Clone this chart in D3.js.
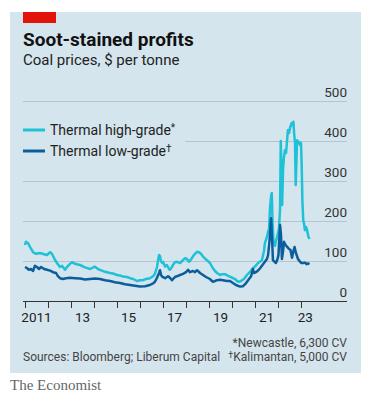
<!DOCTYPE html>
<html><head><meta charset="utf-8">
<script src="https://cdn.jsdelivr.net/npm/d3@7"></script>
<style>
html,body{margin:0;padding:0;background:#fff;}
svg{display:block;}
</style></head>
<body>
<script>
// ---- data ----
const highDates = [2011.00,2011.04,2011.13,2011.22,2011.35,2011.48,2011.65,2011.83,2011.96,2012.09,2012.17,2012.30,2012.43,2012.52,2012.61,2012.74,2012.87,2013.04,2013.17,2013.39,2013.61,2013.83,2014.04,2014.17,2014.26,2014.48,2014.70,2014.87,2015.00,2015.13,2015.26,2015.43,2015.57,2015.70,2015.87,2016.00,2016.13,2016.26,2016.43,2016.57,2016.65,2016.74,2016.78,2016.83,2016.87,2016.91,2016.96,2017.00,2017.09,2017.17,2017.26,2017.30,2017.39,2017.43,2017.52,2017.61,2017.74,2017.83,2017.87,2017.96,2018.04,2018.13,2018.17,2018.30,2018.39,2018.48,2018.57,2018.65,2018.74,2018.83,2018.91,2019.04,2019.17,2019.26,2019.35,2019.48,2019.57,2019.70,2019.83,2019.91,2020.04,2020.13,2020.22,2020.30,2020.39,2020.52,2020.65,2020.78,2020.91,2021.00,2021.13,2021.30,2021.39,2021.43,2021.52,2021.57,2021.61,2021.65,2021.70,2021.73,2021.76,2021.80,2021.87,2021.91,2021.96,2022.00,2022.04,2022.09,2022.12,2022.15,2022.18,2022.22,2022.26,2022.30,2022.35,2022.39,2022.43,2022.48,2022.52,2022.59,2022.63,2022.67,2022.70,2022.74,2022.77,2022.80,2022.83,2022.87,2022.91,2022.96,2023.00,2023.03,2023.06,2023.10,2023.13,2023.17,2023.22,2023.26,2023.32,2023.37];
const highValues = [140,148,145,135,122,118,120,117,115,122,118,103,92,85,88,78,88,97,93,90,84,80,86,80,78,73,70,68,65,64,61,60,57,55,50,52,52,55,57,62,68,85,100,115,112,100,95,98,86,90,80,78,85,90,97,98,95,100,102,107,105,98,100,111,118,123,122,118,111,106,102,95,82,75,70,65,67,67,63,61,57,55,50,48,50,55,65,73,82,86,95,102,125,145,160,173,180,230,262,270,200,150,138,150,160,170,180,230,400,330,240,330,360,377,370,398,427,420,432,445,440,448,420,395,290,350,402,395,398,390,395,340,250,200,195,177,185,178,161,155];
const lowDates = [2011.00,2011.09,2011.17,2011.26,2011.35,2011.43,2011.52,2011.61,2011.70,2011.83,2011.96,2012.09,2012.22,2012.35,2012.43,2012.52,2012.65,2012.78,2012.96,2013.17,2013.39,2013.61,2013.83,2014.04,2014.26,2014.48,2014.70,2014.91,2015.13,2015.35,2015.57,2015.78,2016.00,2016.22,2016.43,2016.57,2016.65,2016.74,2016.83,2016.87,2016.91,2016.96,2017.09,2017.22,2017.30,2017.39,2017.52,2017.65,2017.74,2017.87,2018.00,2018.09,2018.17,2018.30,2018.39,2018.48,2018.61,2018.74,2018.87,2019.04,2019.17,2019.26,2019.35,2019.48,2019.61,2019.78,2019.91,2020.04,2020.17,2020.35,2020.48,2020.57,2020.70,2020.83,2020.91,2020.96,2021.04,2021.13,2021.22,2021.35,2021.43,2021.52,2021.57,2021.63,2021.70,2021.74,2021.78,2021.85,2021.91,2021.98,2022.02,2022.09,2022.13,2022.17,2022.22,2022.26,2022.33,2022.39,2022.48,2022.54,2022.61,2022.67,2022.72,2022.78,2022.87,2022.96,2023.02,2023.09,2023.17,2023.24,2023.30,2023.37];
const lowValues = [85,82,78,80,75,88,85,80,85,80,78,76,72,70,62,57,55,57,58,57,56,54,55,56,55,52,50,47,45,42,40,38,36,37,40,44,48,58,70,77,66,61,57,62,58,52,60,63,65,68,72,78,72,75,72,77,70,65,60,55,48,50,52,53,52,50,50,45,40,36,37,42,52,62,80,70,72,76,82,92,98,105,115,150,207,160,102,98,95,105,115,190,165,105,125,148,140,136,130,128,108,125,135,120,105,98,95,95,96,92,94,92];
const seriesNames = ["Thermal high-grade", "Thermal low-grade"];
const seriesMarks = ["*", "\u2020"];
const yTicks = [0,100,200,300,400,500];
const yearTicks = [2011,2012,2013,2014,2015,2016,2017,2018,2019,2020,2021,2022,2023];
const yearLabels = ["2011","13","15","17","19","21","23"];
const labelYears = [2011,2013,2015,2017,2019,2021,2023];

// ---- drawing ----
const W = 381, H = 404;
const cyan = "#1fc1d7", dark = "#0b5e9c", bg = "#d5e5ee";
const sans = "Roboto, 'Open Sans', sans-serif";
const svg = d3.select("body").append("svg").attr("width", W).attr("height", H)
  .style("font-family", sans);

svg.append("rect").attr("x",10).attr("y",12).attr("width",351).attr("height",361).attr("fill",bg);
svg.append("rect").attr("x",23).attr("y",12).attr("width",33).attr("height",11).attr("fill","#e3120b");

svg.append("text").attr("x",23).attr("y",46).text("Soot-stained profits")
  .attr("font-size",19).attr("font-weight",700).attr("fill","#111");
svg.append("text").attr("x",23).attr("y",65).text("Coal prices, $ per tonne")
  .attr("font-size",15).attr("fill","#222");

const lastDate = highDates[highDates.length-1];
const x = d3.scaleLinear().domain([2011, 2023]).range([25, 301]);
const y = d3.scaleLinear().domain([0, 500]).range([301, 101]);
const left = 23, right = 347;

// gridlines
svg.append("g").selectAll("line").data(yTicks.filter(d=>d>0)).join("line")
  .attr("x1",left).attr("x2",right).attr("y1",d=>y(d)+0.5).attr("y2",d=>y(d)+0.5)
  .attr("stroke","#b3c5cf").attr("stroke-width",1);

// y labels
svg.append("g").selectAll("text").data(yTicks).join("text")
  .attr("x",right).attr("y",d=>y(d)-4).attr("text-anchor","end")
  .attr("font-size",13.5).attr("fill","#333").text(d=>d);

// legend background (hides gridline behind it)
svg.append("rect").attr("x",left).attr("y",115).attr("width",162).attr("height",48).attr("fill",bg);

// x axis
svg.append("line").attr("x1",left).attr("x2",right).attr("y1",y(0)+0.5).attr("y2",y(0)+0.5)
  .attr("stroke","#333").attr("stroke-width",1);
svg.append("g").selectAll("line").data(yearTicks).join("line")
  .attr("x1",d=>Math.round(x(d))+0.5).attr("x2",d=>Math.round(x(d))+0.5)
  .attr("y1",y(0)).attr("y2",y(0)+7).attr("stroke","#333").attr("stroke-width",1);
svg.append("g").selectAll("text").data(labelYears).join("text")
  .attr("x",(d)=> (x(d) + x(Math.min(d+1, lastDate)))/2)
  .attr("y",322).attr("text-anchor","middle").attr("font-size",13.5).attr("fill","#222")
  .text((d,i)=>yearLabels[i]);

// lines
const line = d3.line().x(d=>x(d[0])).y(d=>y(d[1])).curve(d3.curveLinear);
svg.append("path").datum(d3.zip(highDates, highValues)).attr("d",line)
  .attr("fill","none").attr("stroke",cyan).attr("stroke-width",2.5).attr("stroke-linejoin","round");
svg.append("path").datum(d3.zip(lowDates, lowValues)).attr("d",line)
  .attr("fill","none").attr("stroke",dark).attr("stroke-width",2.5).attr("stroke-linejoin","round");

// legend
const leg = svg.append("g");
[[cyan,130,135],[dark,151,156]].forEach((c,i)=>{
  leg.append("line").attr("x1",23).attr("x2",45).attr("y1",c[1]).attr("y2",c[1])
    .attr("stroke",c[0]).attr("stroke-width",3);
  const t = leg.append("text").attr("x",50).attr("y",c[2]).attr("font-size",14).attr("fill","#222");
  t.append("tspan").text(seriesNames[i]);
  t.append("tspan").attr("font-size",10).attr("dy",-4).text(seriesMarks[i]);
});

// footnotes
svg.append("text").attr("x",right).attr("y",347).attr("text-anchor","end")
  .attr("font-size",12).attr("fill","#444").text("*Newcastle, 6,300 CV");
const ft = svg.append("text").attr("x",right).attr("y",361).attr("text-anchor","end")
  .attr("font-size",12).attr("fill","#444");
ft.append("tspan").attr("font-size",9).attr("dy",-3).text("\u2020");
ft.append("tspan").attr("dy",3).text("Kalimantan, 5,000 CV");
svg.append("text").attr("x",left).attr("y",361)
  .attr("font-size",12).attr("fill","#444").text("Sources: Bloomberg; Liberum Capital");
svg.append("text").attr("x",10).attr("y",390).style("font-family","'Liberation Serif', 'DejaVu Serif', serif")
  .attr("font-size",15).attr("fill","#666").text("The Economist");
</script>
</body></html>
